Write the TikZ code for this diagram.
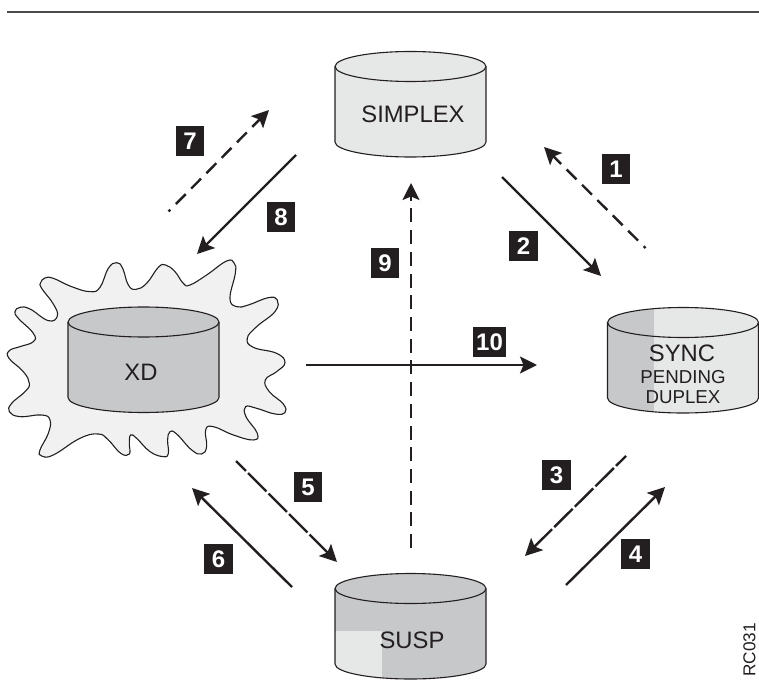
\documentclass[tikz,border=0pt]{standalone}
\usepackage{fontspec}
\setmainfont{Liberation Sans}
\usetikzlibrary{arrows.meta}

\definecolor{inkdark}{HTML}{231F20}
\definecolor{diskpale}{HTML}{E6E7E7}
\definecolor{diskgrey}{HTML}{C7C8CA}
\definecolor{cloudgrey}{HTML}{F1F1F2}

\tikzset{
  flow/.style={line width=2.4pt,draw=inkdark,-{Stealth[length=17pt,width=17pt,inset=3.5pt]}},
  flowdash/.style={flow,dash pattern=on 14pt off 7.7pt},
  flowdot/.style={flow,dash pattern=on 2.5pt off 8pt on 14pt off 7.7pt on 14pt off 7.7pt on 14pt off 7.7pt on 14pt off 7.7pt on 14pt off 7.7pt on 14pt off 7.7pt on 14pt off 7.7pt},
  flowlong/.style={flow,dash pattern=on 26pt off 3pt,dash phase=12pt},
  diskline/.style={line width=1.1pt,draw=inkdark},
  disklabel/.style={text=inkdark,inner sep=0pt,font=\fontsize{23.8}{24}\selectfont},
  disksmall/.style={disklabel,font=\fontsize{18.7}{19}\selectfont},
  numbox/.style={fill=inkdark,text=white,inner sep=0pt,minimum width=28.5pt,minimum height=30pt,
    font=\fontsize{24}{24}\selectfont\bfseries}
}

%% #1 centre x, #2 centre y of the top ellipse, #3 fill, #4 shaded patch
\newcommand{\drawdisk}[4]{
  \begin{scope}
    \clip (#1-75.5,#2) -- ++(0,75.5) arc[start angle=180,end angle=0,x radius=75.5,y radius=15]
      -- ++(0,-75.5) arc[start angle=0,end angle=-180,x radius=75.5,y radius=15] -- cycle;
    \fill[#3] (#1-80,#2-20) rectangle (#1+80,#2+100);
    #4
  \end{scope}
  \draw[diskline] (#1-75.5,#2) -- ++(0,75.5) arc[start angle=180,end angle=0,x radius=75.5,y radius=15]
    -- ++(0,-75.5);
  \draw[diskline] (#1,#2) ellipse[x radius=75.5,y radius=15];
}

\begin{document}
\begin{tikzpicture}[x=1pt,y=-1pt]

  \useasboundingbox (0,0) rectangle (759,684);

  %% Rule along the top
  \coordinate (ruleL) at (7,12);
  \coordinate (ruleR) at (759,12);
  \draw[line width=1.2pt,draw=black!70] (ruleL) -- (ruleR);

  %% Cloud behind the XD disk
  \begin{scope}[shift={(0,230)},x=0.3333pt,y=-0.3333pt]
    \draw[diskline,fill=cloudgrey] plot[smooth cycle,tension=0.75] coordinates {
      (122,158) (135,144) (160,145) (215,170) (270,185) (300,172) (325,115) (350,98) (368,115) (385,165) (408,178)
      (440,160) (475,112) (497,105) (525,125) (550,160) (570,165) (620,135) (680,93) (703,100) (706,130) (690,205) (710,230)
      (745,225) (805,203) (832,210) (825,245) (770,290) (742,325) (760,352) (830,370) (855,398) (830,425) (796,450)
      (808,485) (850,522) (855,548) (825,552) (770,535) (737,530) (738,560) (772,610) (760,630) (700,615) (640,590)
      (617,600) (620,650) (605,672) (575,660) (530,612) (510,605) (503,630) (505,670) (490,680) (450,665) (410,625) (392,615)
      (388,640) (388,672) (362,670) (325,630) (295,612) (240,625) (160,675) (125,678) (120,660) (145,610)
      (150,570) (125,555) (60,560) (28,545) (35,520) (75,485) (88,460) (70,425) (27,385) (28,362) (60,350)
      (100,335) (100,310) (55,265) (45,245) (60,232) (90,237) (145,272) (172,258) (160,222) (125,175)};
  \end{scope}

  %% Disks
  \drawdisk{410.5}{66.5}{diskpale}{}
  \drawdisk{143.5}{322}{diskgrey}{}
  \drawdisk{683}{322.5}{diskpale}{\fill[diskgrey] (600,300) rectangle (654,420);}
  \drawdisk{410.5}{588.5}{diskgrey}{\fill[diskpale] (330,631) rectangle (382,690);}

  %% Disk names
  \node[disklabel] (simplex) at (413,114) {SIMPLEX};
  \node[disklabel] (xd) at (141,372) {XD};
  \node[disklabel] (sync) at (682,353) {SYNC};
  \node[disksmall] (pending) at (683,377) {PENDING};
  \node[disksmall] (duplex) at (683,397) {DUPLEX};
  \node[disklabel] (susp) at (412,640) {SUSP};

  %% Arrow ends
  \coordinate (a1) at (645.5,248);
  \coordinate (b1) at (544,147);
  \coordinate (a2) at (502,177);
  \coordinate (b2) at (601,276);
  \coordinate (a3) at (626,456);
  \coordinate (b3) at (525,556);
  \coordinate (a4) at (566,585);
  \coordinate (b4) at (665,487);
  \coordinate (a5) at (236,461);
  \coordinate (b5) at (337,562);
  \coordinate (a6) at (292,587);
  \coordinate (b6) at (192,488);
  \coordinate (a7) at (168.5,211.5);
  \coordinate (b7) at (269,110);
  \coordinate (a8) at (296,155);
  \coordinate (b8) at (197,254);
  \coordinate (a9) at (411,548);
  \coordinate (b9) at (411,183);
  \coordinate (a10) at (306,365);
  \coordinate (b10) at (537,365);

  %% Draw arrows
  \draw[flowdot] (a1) -- (b1);
  \draw[flow] (a2) -- (b2);
  \draw[flowlong] (a3) -- (b3);
  \draw[flow] (a4) -- (b4);
  \draw[flowlong] (a5) -- (b5);
  \draw[flow] (a6) -- (b6);
  \draw[flowdot] (a7) -- (b7);
  \draw[flow] (a8) -- (b8);
  \draw[flowdash] (a9) -- (b9);
  \draw[flow] (a10) -- (b10);

  %% Numbered boxes
  \node[numbox] (n1) at (616,169) {1};
  \node[numbox] (n2) at (523.5,246) {2};
  \node[numbox] (n3) at (556.5,475) {3};
  \node[numbox] (n4) at (635.5,554) {4};
  \node[numbox] (n5) at (308,487) {5};
  \node[numbox] (n6) at (218.5,559) {6};
  \node[numbox] (n7) at (190,141) {7};
  \node[numbox] (n8) at (281,217) {8};
  \node[numbox] (n9) at (385,263) {9};
  \node[numbox,minimum width=33pt] (n10) at (489.5,342) {10};

  %% Figure code
  \node[text=inkdark,inner sep=0pt,rotate=90,font=\fontsize{17.2}{18}\selectfont] (code) at (749.5,650) {RC031};

\end{tikzpicture}
\end{document}
